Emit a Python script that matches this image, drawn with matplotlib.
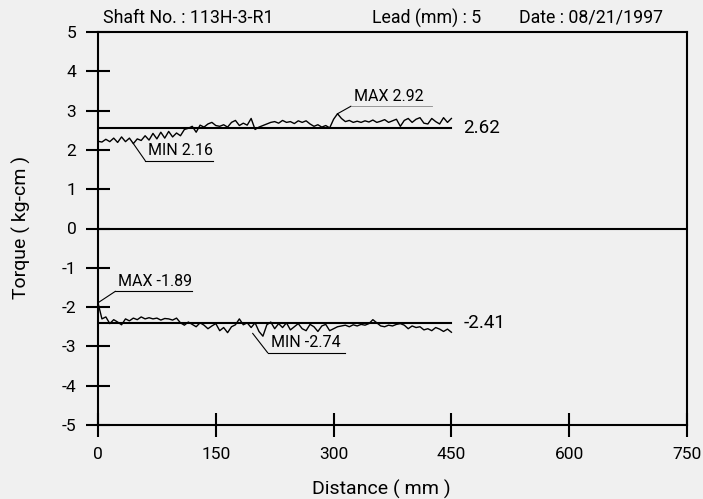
import matplotlib
matplotlib.use("Agg")
import matplotlib.pyplot as plt
import numpy as np

# --- dados ---
distance = np.arange(0, 455, 5)

torque_pos = [2.22, 2.20, 2.27, 2.21, 2.30, 2.19, 2.33, 2.21, 2.30, 2.16,
              2.28, 2.24, 2.36, 2.25, 2.42, 2.28, 2.45, 2.30, 2.47, 2.33,
              2.43, 2.36, 2.52, 2.55, 2.60, 2.45, 2.63, 2.58, 2.66, 2.70,
              2.62, 2.60, 2.64, 2.58, 2.70, 2.75, 2.62, 2.68, 2.63, 2.80,
              2.52, 2.58, 2.62, 2.66, 2.70, 2.72, 2.68, 2.75, 2.70, 2.72,
              2.67, 2.74, 2.70, 2.74, 2.66, 2.60, 2.64, 2.58, 2.62, 2.56,
              2.78, 2.92, 2.80, 2.72, 2.75, 2.70, 2.73, 2.70, 2.74, 2.71,
              2.76, 2.70, 2.73, 2.77, 2.70, 2.74, 2.78, 2.60, 2.75, 2.80,
              2.70, 2.78, 2.82, 2.68, 2.66, 2.80, 2.72, 2.66, 2.82, 2.70,
              2.80]

torque_neg = [-1.89, -2.30, -2.25, -2.42, -2.32, -2.38, -2.45, -2.30, -2.35, -2.28,
              -2.32, -2.25, -2.30, -2.27, -2.30, -2.28, -2.33, -2.29, -2.30, -2.33,
              -2.28, -2.40, -2.46, -2.38, -2.44, -2.50, -2.40, -2.46, -2.55, -2.48,
              -2.42, -2.60, -2.52, -2.65, -2.50, -2.45, -2.30, -2.45, -2.40, -2.52,
              -2.40, -2.62, -2.74, -2.45, -2.38, -2.55, -2.42, -2.52, -2.40, -2.58,
              -2.50, -2.42, -2.55, -2.60, -2.44, -2.50, -2.62, -2.48, -2.44, -2.60,
              -2.55, -2.50, -2.48, -2.46, -2.50, -2.45, -2.48, -2.44, -2.46, -2.42,
              -2.32, -2.40, -2.48, -2.50, -2.46, -2.48, -2.44, -2.42, -2.46, -2.55,
              -2.48, -2.52, -2.50, -2.58, -2.55, -2.60, -2.52, -2.56, -2.62, -2.56,
              -2.64]

mean_lines = [2.56, -2.40]
mean_labels = ["2.62", "-2.41"]

x_ticks = [0, 150, 300, 450, 600, 750]
y_ticks = list(range(-5, 6))

header = ["Shaft No. : 113H-3-R1", "Lead (mm) : 5", "Date : 08/21/1997"]

BG = "#f0f0f0"
plt.rcParams['font.family'] = ['Roboto', 'DejaVu Sans']
plt.rcParams['axes.unicode_minus'] = False

fig = plt.figure(figsize=(7.03, 4.99), dpi=100, facecolor=BG)
ax = fig.add_axes([98 / 703, 1 - 425 / 499, 589 / 703, 393 / 499])
ax.set_facecolor(BG)

ax.plot(distance, torque_pos, color="black", lw=1.0)
ax.plot(distance, torque_neg, color="black", lw=1.0)
for m, lab in zip(mean_lines, mean_labels):
    ax.plot([distance[0], distance[-1]], [m, m], color="black", lw=1.5)
    ax.text(465, m, lab, fontsize=13.5, va="center", ha="left")
ax.axhline(0, color="black", lw=1.5)

# --- anotacoes MAX / MIN ---
def leader(xp, yp, dx, dy, length, texto, gray=False):
    cx, cy = xp + dx, yp + dy
    ax.plot([xp, cx], [yp, cy], color="black", lw=0.8)
    ax.plot([cx, cx + length], [cy, cy], color="#888888" if gray else "black",
            lw=0.6 if gray else 0.8)
    ax.text(cx + 4, cy + 0.06, texto, fontsize=11.5, ha="left", va="bottom")

pos = np.array(torque_pos)
neg = np.array(torque_neg)
i = pos.argmax()
leader(distance[i], pos[i], 17, 0.19, 103, f"MAX {pos[i]:.2f}", gray=True)
i = pos.argmin()
leader(distance[i], pos[i], 15, -0.43, 86, f"MIN {pos[i]:.2f}")
i = neg.argmax()
leader(distance[i], neg[i], 22, 0.29, 98, f"MAX {neg[i]:.2f}")
i = neg.argmin()
leader(distance[i] - 13, neg[i] + 0.07, 19, -0.49, 98, f"MIN {neg[i]:.2f}")

ax.set_xlim(0, 750)
ax.set_ylim(-5, 5)
ax.set_xticks(x_ticks)
ax.set_yticks(y_ticks)
ax.tick_params(direction="inout", length=17, width=1.5, labelsize=12.5, pad=7)
for s in ax.spines.values():
    s.set_linewidth(1.5)

ax.set_xlabel("Distance ( mm )", fontsize=14)
ax.set_ylabel("Torque ( kg-cm )", fontsize=14)
ax.xaxis.set_label_coords((381 - 98) / 589, -(489 - 425) / 393)
ax.yaxis.set_label_coords(-(98 - 21) / 589, (425 - 227) / 393)
ax.xaxis.label.set_va("center")
ax.yaxis.label.set_va("center")

for txt, px in zip(header, [103, 372, 519]):
    fig.text(px / 703, 1 - 18 / 499, txt, fontsize=12.8, ha="left", va="center")

fig.savefig("out.png", dpi=100, facecolor=BG)
